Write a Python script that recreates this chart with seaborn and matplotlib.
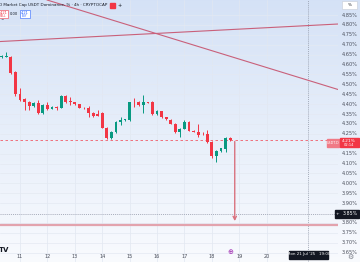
import numpy as np
import pandas as pd
import matplotlib
matplotlib.use("Agg")
import matplotlib.pyplot as plt
import seaborn as sns
from matplotlib.patches import Rectangle

sns.set_style("white")
plt.rcParams['font.family'] = ['DejaVu Sans']

# ---- data (4h candles, slot 0 = 11 Jul 00:00) ----
slots = list(range(-4, 47))
opens = [4.638, 4.638, 4.640, 4.560, 4.451, 4.424, 4.411, 4.390, 4.406, 4.355,
         4.395, 4.375, 4.383, 4.380, 4.441, 4.416, 4.411, 4.398, 4.380, 4.380,
         4.355, 4.350, 4.355, 4.279, 4.229, 4.259, 4.312, 4.320, 4.318, 4.411,
         4.411, 4.395, 4.411, 4.411, 4.350, 4.365, 4.335, 4.322, 4.300, 4.257,
         4.274, 4.310, 4.264, 4.259, 4.249, 4.249, 4.209, 4.138, 4.165, 4.175, 4.227]
closes = [4.643, 4.645, 4.557, 4.451, 4.421, 4.411, 4.390, 4.406, 4.355, 4.395,
          4.375, 4.385, 4.378, 4.441, 4.411, 4.413, 4.398, 4.380, 4.378, 4.355,
          4.340, 4.342, 4.279, 4.229, 4.259, 4.312, 4.320, 4.322, 4.411, 4.409,
          4.395, 4.411, 4.408, 4.350, 4.365, 4.335, 4.325, 4.300, 4.259, 4.274,
          4.310, 4.264, 4.260, 4.244, 4.247, 4.209, 4.138, 4.165, 4.178, 4.227, 4.218]
highs = [4.648, 4.663, 4.645, 4.567, 4.481, 4.431, 4.416, 4.411, 4.421, 4.400,
         4.411, 4.388, 4.388, 4.446, 4.446, 4.436, 4.413, 4.400, 4.383, 4.390,
         4.358, 4.370, 4.360, 4.282, 4.262, 4.315, 4.335, 4.327, 4.413, 4.431,
         4.416, 4.446, 4.413, 4.414, 4.368, 4.367, 4.337, 4.325, 4.303, 4.279,
         4.318, 4.313, 4.267, 4.300, 4.259, 4.269, 4.212, 4.168, 4.180, 4.232, 4.232]
lows = [4.633, 4.636, 4.552, 4.441, 4.416, 4.370, 4.370, 4.385, 4.352, 4.350,
        4.370, 4.373, 4.372, 4.378, 4.408, 4.395, 4.396, 4.378, 4.374, 4.335,
        4.337, 4.338, 4.277, 4.226, 4.226, 4.255, 4.295, 4.315, 4.315, 4.385,
        4.392, 4.355, 4.405, 4.347, 4.345, 4.332, 4.322, 4.298, 4.252, 4.234,
        4.272, 4.262, 4.257, 4.232, 4.244, 4.205, 4.130, 4.108, 4.160, 4.160, 4.212]

day_labels = ["11", "12", "13", "14", "15", "16", "17", "18", "19", "20"]
day_slots = [0, 6, 12, 18, 24, 30, 36, 42, 48, 54]
price_ticks = [4.85, 4.80, 4.75, 4.70, 4.65, 4.60, 4.55, 4.50, 4.45, 4.40, 4.35,
               4.30, 4.25, 4.15, 4.10, 4.05, 4.00, 3.95, 3.90, 3.80, 3.75, 3.70, 3.65]

# drawings
rise_line_slot = [-4.4, 70.0]
rise_line_price = [4.716, 4.805]
fall_line_slot = [5.9, 70.0]
fall_line_price = [4.926, 4.471]
support_price = 3.787
arrow_slot = 47
arrow_from = 4.225
arrow_to = 3.795
crosshair_slot = 63
crosshair_price = 3.846
crosshair_price_label = "3.85%"
crosshair_time_label = "Mon 21 Jul '25   19:00"
last_price_label = "4.21%"
header_text = "D Market Cap USDT Dominance, % \u00b7 4h \u00b7 CRYPTOCAP"

UP = "#089981"
DOWN = "#f23645"
LINE = "#c9607a"

W, H = 360, 262
fig = plt.figure(figsize=(W / 100, H / 100), dpi=100)

# background gradient across whole figure
bg = fig.add_axes([0, 0, 1, 1], zorder=-10)
grad = np.linspace(0, 1, 256).reshape(-1, 1)
top = np.array([0.835, 0.886, 0.965])
bot = np.array([0.975, 0.982, 0.996])
img = top[None, None, :] * (1 - grad[:, :, None]) + bot[None, None, :] * grad[:, :, None]
bg.imshow(img, aspect="auto", extent=[0, 1, 0, 1])
bg.set_axis_off()

ax = fig.add_axes([0, 0, 338 / W, 1])
ax.patch.set_alpha(0)
xmin, xmax = -4.376, 69.6
ymin, ymax = 3.6025, 4.9258
ax.set_xlim(xmin, xmax)
ax.set_ylim(ymin, ymax)
for s in ax.spines.values():
    s.set_visible(False)

# grid
for ds in day_slots:
    ax.axvline(ds, color="#e1e7f1", lw=0.5, zorder=0)
for p in price_ticks:
    ax.axhline(p, color="#e4e9f2", lw=0.5, zorder=0)

# candles
df = pd.DataFrame({"slot": slots, "open": opens, "close": closes, "high": highs, "low": lows})
df["color"] = np.where(df["close"] >= df["open"], UP, DOWN)
ax.vlines(df["slot"], df["low"], df["high"], colors=df["color"], lw=0.7, zorder=3)
body = (df["close"] - df["open"]).abs().clip(lower=0.004)
ax.bar(df["slot"], body, bottom=df[["open", "close"]].min(axis=1), width=0.62,
       color=df["color"], zorder=4, linewidth=0)

# trend lines via seaborn
sns.lineplot(x=rise_line_slot, y=rise_line_price, ax=ax, color=LINE, lw=0.8, zorder=5)
sns.lineplot(x=fall_line_slot, y=fall_line_price, ax=ax, color=LINE, lw=0.8, zorder=5)
ax.plot([xmin, xmax], [support_price, support_price], color="#e3a3ad", lw=1.6, zorder=5,
        solid_capstyle="butt")
ax.annotate("", xy=(arrow_slot, arrow_to), xytext=(arrow_slot, arrow_from),
            arrowprops=dict(arrowstyle="->", color="#d9727f", lw=1.0, mutation_scale=6),
            zorder=6)

# last price line
last_close = closes[-1]
ax.axhline(last_close, color=DOWN, lw=0.6, ls=(0, (3, 3)), alpha=0.8, zorder=2)

# crosshair
ax.axvline(crosshair_slot, color="#8c93a3", lw=0.5, ls=(0, (1.5, 1.5)), zorder=2)
ax.axhline(crosshair_price, color="#8c93a3", lw=0.5, ls=(0, (1.5, 1.5)), zorder=2)

ax.set_xticks([])
ax.set_yticks([])


def fy(p):
    return (p - ymin) / (ymax - ymin)


def fx(s):
    return (s - xmin) / (xmax - xmin) * 338 / W


# price scale labels
for p in price_ticks:
    fig.text(350 / W, fy(p), f"{p:.2f}%", fontsize=3.6, color="#4a4e5a",
             ha="center", va="center")

# day labels
for lab, ds in zip(day_labels, day_slots):
    fig.text(fx(ds), 1 - 256 / H, lab, fontsize=3.6, color="#4a4e5a",
             ha="center", va="center")

# last price badge
fig.patches.append(Rectangle((327 / W, 1 - 146.5 / H), 12 / W, 8 / H,
                             transform=fig.transFigure, color="#f07a86", zorder=20))
fig.patches.append(Rectangle((339.5 / W, 1 - 147 / H), 19 / W, 9 / H,
                             transform=fig.transFigure, color=DOWN, zorder=20))
fig.text(333 / W, 1 - 142.5 / H, "USDT.D", fontsize=2.4, color="white", ha="center",
         va="center", zorder=21)
fig.text(349 / W, 1 - 140.5 / H, last_price_label, fontsize=3.2, color="white",
         ha="center", va="center", zorder=21)
fig.text(349 / W, 1 - 145 / H, "02:14", fontsize=2.6, color="white",
         ha="center", va="center", zorder=21)

# crosshair price badge
cy = fy(crosshair_price)
fig.patches.append(Rectangle((335 / W, cy - 4 / H), 24 / W, 8 / H,
                             transform=fig.transFigure, color="#131722", zorder=20))
fig.text(337.5 / W, cy, "+", fontsize=3.2, color="white", ha="center", va="center", zorder=21)
fig.text(350 / W, cy, crosshair_price_label, fontsize=3.4, color="white",
         ha="center", va="center", zorder=21)

# crosshair time badge
fig.patches.append(Rectangle((289 / W, 1 - 258.5 / H), 39 / W, 8 / H,
                             transform=fig.transFigure, color="#131722", zorder=20))
fig.text(308.5 / W, 1 - 254.5 / H, crosshair_time_label, fontsize=2.9, color="white",
         ha="center", va="center", zorder=21)

# event marker
fig.text(fx(arrow_slot) - 4 / W, 1 - 252 / H, "\u2295", fontsize=5, color="#9c27b0",
         ha="center", va="center")
# gear
fig.text(350 / W, 1 - 257 / H, "\u2699", fontsize=5, color="#787b86", ha="center", va="center")

# top header
hdr = fig.text(-1 / W, 1 - 5 / H, header_text, fontsize=3.0, color="#131722",
               ha="left", va="center")
fig.canvas.draw()
hx1 = hdr.get_window_extent().x1
fig.patches.append(Rectangle(((hx1 + 3) / W, 1 - 7.5 / H), 4.5 / W, 5 / H,
                             transform=fig.transFigure, color=DOWN, zorder=20))
fig.text((hx1 + 12) / W, 1 - 5.2 / H, "+", fontsize=3.6, color="#131722",
         ha="center", va="center")
fig.patches.append(Rectangle((-1 / W, 1 - 18 / H), 9 / W, 8 / H, transform=fig.transFigure,
                             facecolor="white", edgecolor=DOWN, lw=0.4, zorder=20))
fig.text(3.5 / W, 1 - 12.5 / H, "4.21", fontsize=2.6, color=DOWN, ha="center", va="center", zorder=21)
fig.text(3.5 / W, 1 - 15.8 / H, "SELL", fontsize=2.0, color=DOWN, ha="center", va="center", zorder=21)
fig.text(14 / W, 1 - 14 / H, "0.00", fontsize=2.6, color="#131722", ha="center", va="center")
fig.patches.append(Rectangle((20 / W, 1 - 18 / H), 10 / W, 8 / H, transform=fig.transFigure,
                             facecolor="white", edgecolor="#2962ff", lw=0.4, zorder=20))
fig.text(25 / W, 1 - 12.5 / H, "4.21", fontsize=2.6, color="#2962ff", ha="center", va="center", zorder=21)
fig.text(25 / W, 1 - 15.8 / H, "BUY", fontsize=2.0, color="#2962ff", ha="center", va="center", zorder=21)
fig.text(1 / W, 1 - 21 / H, "^", fontsize=3, color="#131722", ha="left", va="center")

# % button top right
fig.patches.append(Rectangle((342 / W, 1 - 9 / H), 15 / W, 8 / H, transform=fig.transFigure,
                             facecolor="white", edgecolor="#c5cbd6", lw=0.4, zorder=20))
fig.text(349.5 / W, 1 - 5 / H, "%", fontsize=3, color="#131722", ha="center", va="center", zorder=21)

# TV logo
fig.text(-1 / W, 1 - 250 / H, "TV", fontsize=5, fontweight="bold", color="#131722",
         ha="left", va="center")

fig.savefig("out.png", dpi=100)
